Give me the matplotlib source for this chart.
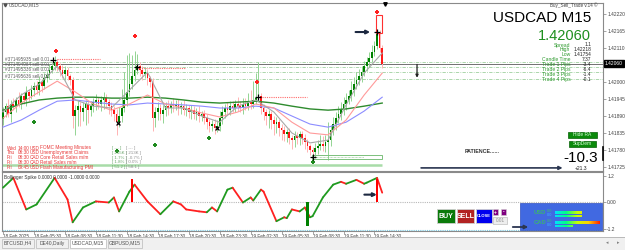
import numpy as np
import matplotlib.pyplot as plt
from matplotlib.collections import LineCollection
from matplotlib.patches import Rectangle
from matplotlib.colors import LinearSegmentedColormap
from matplotlib.transforms import blended_transform_factory

plt.rcParams["font.family"] = ["Liberation Sans", "DejaVu Sans"]

# -------------------------------
# price data (USDCAD M15)
# -------------------------------
first_open = 1.41880
close = [
    1.41903, 1.41922, 1.41896, 1.41929, 1.41922, 1.41942, 1.41929, 1.41954, 1.41942, 1.41967,
    1.41954, 1.41974, 1.41987, 1.41974, 1.42000, 1.41987, 1.42013, 1.42022, 1.42039, 1.42051,
    1.42064, 1.42051, 1.42039, 1.42026, 1.42039, 1.42019, 1.42006, 1.41890, 1.41909, 1.41922,
    1.41903, 1.41916, 1.41929, 1.41909, 1.41922, 1.41935, 1.41942, 1.41929, 1.41942, 1.41948,
    1.41935, 1.41922, 1.41909, 1.41896, 1.41870, 1.41890, 1.41916, 1.41942, 1.41967, 1.41993,
    1.42019, 1.42039, 1.42051, 1.42039, 1.42026, 1.42032, 1.42013, 1.42000, 1.41883, 1.41903,
    1.41916, 1.41896, 1.41909, 1.41922, 1.41916, 1.41929, 1.41922, 1.41929, 1.41916, 1.41922,
    1.41909, 1.41916, 1.41903, 1.41909, 1.41896, 1.41903, 1.41890, 1.41896, 1.41883, 1.41870,
    1.41857, 1.41864, 1.41851, 1.41857, 1.41883, 1.41903, 1.41916, 1.41909, 1.41922, 1.41916,
    1.41929, 1.41922, 1.41916, 1.41929, 1.41922, 1.41935, 1.41929, 1.41942, 1.41948, 1.41954,
    1.41916, 1.41903, 1.41890, 1.41896, 1.41877, 1.41864, 1.41870, 1.41851, 1.41844, 1.41831,
    1.41838, 1.41819, 1.41812, 1.41825, 1.41819, 1.41831, 1.41819, 1.41806, 1.41793, 1.41780,
    1.41773, 1.41786, 1.41793, 1.41799, 1.41793, 1.41806, 1.41812, 1.41844, 1.41864, 1.41883,
    1.41896, 1.41909, 1.41929, 1.41942, 1.41954, 1.41974, 1.41993, 1.42006, 1.42019, 1.42032,
    1.42051, 1.42064, 1.42077, 1.42097, 1.42116, 1.42155, 1.42110, 1.42060,
]
# wick lengths in points (1 point = 0.00001)
up_wick = [
    15, 10, 22, 12, 18, 10, 25, 12, 15, 20,
    10, 18, 12, 15, 20, 10, 16, 14, 18, 12,
    20, 12, 10, 16, 12, 10, 8, 10, 16, 20,
    12, 18, 14, 10, 16, 12, 18, 10, 14, 20,
    12, 10, 14, 12, 16, 30, 60, 90, 120, 100,
    70, 60, 40, 14, 12, 18, 10, 8, 12, 16,
    20, 12, 18, 14, 20, 10, 18, 12, 16, 14,
    20, 12, 10, 16, 14, 12, 18, 10, 12, 14,
    10, 12, 16, 20, 24, 18, 14, 20, 16, 18,
    14, 22, 16, 20, 18, 30, 40, 60, 80, 110,
    12, 12, 10, 14, 10, 12, 16, 10, 12, 14,
    10, 12, 10, 16, 14, 12, 10, 12, 10, 8,
    10, 18, 20, 30, 26, 22, 60, 18, 24, 20,
    28, 26, 22, 24, 20, 28, 22, 26, 24, 20,
    18, 16, 20, 24, 18, 10, 14, 10,
]
lo_wick = [
    20, 15, 10, 25, 12, 18, 10, 16, 12, 20,
    14, 10, 18, 12, 16, 20, 10, 14, 12, 10,
    12, 16, 20, 14, 18, 12, 16, 40, 60, 50,
    45, 30, 55, 40, 20, 18, 25, 16, 22, 30,
    20, 25, 18, 22, 40, 16, 20, 14, 18, 12,
    16, 14, 12, 18, 20, 14, 22, 16, 40, 30,
    25, 20, 30, 18, 22, 16, 20, 14, 22, 18,
    16, 20, 18, 22, 14, 20, 18, 16, 20, 22,
    18, 16, 20, 14, 16, 18, 20, 14, 16, 12,
    14, 16, 12, 18, 14, 12, 16, 14, 12, 10,
    20, 25, 30, 40, 30, 35, 28, 25, 30, 22,
    26, 20, 30, 22, 18, 24, 20, 22, 18, 16,
    16, 20, 18, 14, 16, 20, 60, 18, 16, 20,
    14, 18, 16, 20, 14, 16, 18, 14, 16, 20,
    12, 14, 16, 12, 14, 10, 12, 14,
]

# moving averages, sampled every 7 bars
ma_bars = list(range(0, 148, 7))
ma_slow = [1.41909, 1.41929, 1.41942, 1.41948, 1.41951, 1.41951, 1.41948, 1.41948, 1.41951, 1.41948, 1.41942,
           1.41935, 1.41932, 1.41935, 1.41938, 1.41932, 1.41922, 1.41913, 1.41909, 1.41913, 1.41922, 1.41932]
ma_blue = [1.41854, 1.41877, 1.41909, 1.41938, 1.41942, 1.41935, 1.41929, 1.41926, 1.41932, 1.41929, 1.41926,
           1.41922, 1.41916, 1.41916, 1.41922, 1.41916, 1.41890, 1.41864, 1.41854, 1.41870, 1.41906, 1.41951]
ma_pink = [1.41883, 1.41932, 1.41968, 1.42003, 1.41968, 1.41929, 1.41909, 1.41929, 1.41958, 1.41929, 1.41916,
           1.41900, 1.41887, 1.41903, 1.41929, 1.41916, 1.41870, 1.41835, 1.41829, 1.41877, 1.41958, 1.42029]
ma_fast = [1.41903, 1.41958, 1.41993, 1.42052, 1.41942, 1.41922, 1.41916, 1.41974, 1.42032, 1.41916, 1.41916,
           1.41890, 1.41870, 1.41922, 1.41942, 1.41903, 1.41835, 1.41803, 1.41812, 1.41926, 1.42029, 1.42094]

# open trades
trade_prices = [1.42064, 1.42049, 1.42032, 1.42010]
trade_labels = ["#371495935 sell 0.01", "#371494984 sell 0.01",
                "#371495336 sell 0.01", "#371495636 sell 0.01"]
current_price = 1.42060

# signal markers (bar index, price)
sell_sig = [(20.5, 1.42100), (51, 1.42149), (98.5, 1.42000), (145, 1.42226)]
buy_sig = [(12, 1.41870), (44, 1.41777), (59, 1.41796), (80, 1.41819), (120, 1.41741)]
x_marks = [(44.6, 1.41867), (83, 1.41851)]
plus_marks = [(19.4, 1.42071), (52, 1.42048), (99, 1.41951), (120, 1.41757), (145, 1.42162)]
red_levels = [(21, 37.6, 1.42074), (52, 70.5, 1.42045), (100.4, 118, 1.41951)]
support_line = 1.41731

# oscillator (Bollinger Spike)
osc_bars = [0, 4, 9, 13, 20, 25, 27, 31, 36, 41, 43, 45, 49, 51, 56, 61, 66, 69, 71, 76, 79, 81, 83, 87,
            89, 93, 96, 97, 100, 101, 106, 109, 110, 112, 115, 117, 119, 120, 124, 128, 131, 133, 137,
            140, 141, 145, 147]
osc_vals = [0.68, 1.13, -0.32, -0.09, 1.13, 0.14, -0.91, -0.23, 0.05, 0.0, 0.23, -0.41, 0.50, 0.82,
            0.05, -0.54, 0.05, -0.09, -0.32, -0.41, -0.45, -0.23, -0.41, 0.59, 0.68, 0.0, 0.23, 0.09,
            0.59, 0.50, -0.86, -0.68, -0.72, -0.32, -0.41, -0.23, -0.68, -0.63, 0.23, 0.82, 0.95, 0.86,
            1.04, 0.86, 0.91, 1.13, 0.45]
spike_bars = [50, 118, 145]
spike_vals = [1.09, -1.09, 1.09]

time_bars = [0, 12, 24, 36, 48, 60, 72, 84, 96, 108, 120, 132, 144]
time_labels = ["18 Feb 2025", "18 Feb 05:30", "18 Feb 08:30", "18 Feb 11:30", "18 Feb 14:30",
               "18 Feb 17:30", "18 Feb 20:30", "18 Feb 23:30", "19 Feb 02:30", "19 Feb 05:30",
               "19 Feb 08:30", "19 Feb 11:30", "19 Feb 14:30"]
# 1.42055 sits under the current-price box, so it is not labelled
price_ticks = [1.42220, 1.42165, 1.42110, 1.42000, 1.41945, 1.41890, 1.41835, 1.41780, 1.41725]

info_names = ["Spread", "High", "Low", "Candle Time", "Trade 1 Pips", "Trade 2 Pips", "Trade 3 Pips", "Trade 4 Pips"]
info_values = ["1.1", "1.42218", "1.41754", "7:37", "-3.4", "-6.4", "-1.4", "-0.1"]

news_rows = [("Wed", "14:00", "USD", "FOMC Meeting Minutes"),
             ("Thu", "08:30", "USD", "Unemployment Claims"),
             ("Fri", "08:30", "CAD", "Core Retail Sales m/m"),
             ("Fri", "08:30", "CAD", "Retail Sales m/m"),
             ("Fri", "09:45", "USD", "Flash Manufacturing PMI")]
news_forecast = ["---", "215K", "1.7%", "1.8%", "51.2"]
news_previous = ["---", "213K", "-0.7%", "0.0%", "58.1"]

strength_ccy = ["USD", "CAD"]
strength_vals = [6.0, 10.0]
strength_vals2 = [6.0, 4.0]

tabs = ["BTCUSD,H4", "DE40,Daily", "USDCAD,M15", "GBPUSD,M15"]

# -------------------------------
# figure / axes
# -------------------------------
W, H = 625, 250
fig = plt.figure(figsize=(W / 100, H / 100), dpi=100)
fig.patch.set_facecolor("white")

ax = fig.add_axes([2 / W, 1 - 171 / H, 601 / W, 168 / H])
axi = fig.add_axes([2 / W, 1 - 231 / H, 601 / W, 59 / H])
XLIM = (-0.4, 232.6)

# -------------------------------
# main chart
# -------------------------------
cl = np.array(close)
op = np.r_[first_open, cl[:-1]]
hi = np.maximum(op, cl) + np.array(up_wick) * 1e-5
lo = np.minimum(op, cl) - np.array(lo_wick) * 1e-5
xb = np.arange(len(cl))
bull = cl >= op

ax.vlines(xb[bull], lo[bull], hi[bull], color="#93d493", lw=0.7, zorder=2)
ax.vlines(xb[~bull], lo[~bull], hi[~bull], color="#ffb3b3", lw=0.7, zorder=2)
ax.bar(xb, np.maximum(np.abs(cl - op), 2e-5), bottom=np.minimum(op, cl), width=0.66,
       color=np.where(bull, "#008000", "#ff1a1a"), lw=0, zorder=3)

ax.plot(ma_bars, ma_slow, color="#2e8b2e", lw=1.0, zorder=4)
ax.plot(ma_bars, ma_blue, color="#8c8cff", lw=0.8, zorder=4)
ax.plot(ma_bars, ma_pink, color="#ff9a9a", lw=0.8, zorder=4)
ax.plot(ma_bars, ma_fast, color="#a8a8a8", lw=0.8, zorder=4)

for p, lab in zip(trade_prices, trade_labels):
    ax.axhline(p, color="#9fd09f", lw=0.6, ls=(0, (4, 1.5, 1, 1.5)), zorder=1)
    ax.text(0.8, p + 0.3e-5, lab, fontsize=3.3, color="#606060", va="bottom", zorder=6)
ax.axhline(current_price, color="#707070", lw=0.7, zorder=1)

for x0, x1, p in red_levels:
    ax.hlines(p, x0, x1, color="#ff6a6a", lw=0.8, ls=(0, (1, 1)), zorder=4)

ax.hlines(support_line, XLIM[0], 147, color="#a8dca8", lw=1.8, zorder=1)
ax.add_patch(Rectangle((119.8, 1.41751), 27.1, 0.00013, fill=False, ec="#7cc07c", lw=0.7, zorder=4))
ax.hlines(1.41757, 120.5, 140, color="#7cc07c", lw=0.5, ls=(0, (1, 1)), zorder=4)
ax.add_patch(Rectangle((144.5, 1.42159), 2.4, 0.00058, fill=False, ec="#ff3030", lw=0.8, zorder=5))

sx, sy = zip(*sell_sig)
ax.scatter(sx, sy, marker="P", s=9, color="#ff2020", lw=0, zorder=6)
bx, by = zip(*buy_sig)
ax.scatter(bx, by, marker="P", s=9, color="#1e8a1e", lw=0, zorder=6)
xx, xy = zip(*x_marks)
ax.scatter(xx, xy, marker="x", s=8, color="black", lw=0.9, zorder=6)
px_, py_ = zip(*plus_marks)
ax.scatter(px_, py_, marker="+", s=14, color="black", lw=0.9, zorder=6)

arrow = dict(arrowstyle="-|>", color="#1c2840", lw=1.5, mutation_scale=5)
ax.annotate("", xy=(143.4, 1.42162), xytext=(135.6, 1.42162), arrowprops=arrow, zorder=7)
ax.annotate("", xy=(218, 1.41722), xytext=(161, 1.41722),
            arrowprops=dict(arrowstyle="-|>", color="#2a3550", lw=1.2, mutation_scale=5))
ax.annotate("", xy=(160.5, 1.42005), xytext=(160.5, 1.42066),
            arrowprops=dict(arrowstyle="-|>", color="#202020", lw=0.9, mutation_scale=4))

ax.set_xlim(*XLIM)
ax.set_ylim(1.41712, 1.42256)
ax.set_xticks([])
ax.yaxis.tick_right()
ax.set_yticks(price_ticks)
ax.set_yticklabels([f"{p:.5f}" for p in price_ticks])
ax.tick_params(axis="y", labelsize=3.5, labelcolor="#404040", length=2, width=0.5, pad=1, color="#808080")
for s in ax.spines.values():
    s.set_color("#8a8a8a")
    s.set_linewidth(0.8)
trans = blended_transform_factory(ax.transAxes, ax.transData)
ax.text(1.003, current_price, f"{current_price:.5f}", transform=trans, fontsize=3.5, color="white",
        va="center", ha="left", bbox=dict(boxstyle="square,pad=0.25", fc="black", ec="black"), zorder=8,
        clip_on=False)

# -------------------------------
# oscillator window
# -------------------------------
pts = np.column_stack([osc_bars, osc_vals])
segs = [pts[k:k + 2] for k in range(len(pts) - 1)]
cols = ["#1f9a1f" if osc_vals[k + 1] >= osc_vals[k] else "#ff2020" for k in range(len(pts) - 1)]
axi.add_collection(LineCollection(segs, colors=cols, lw=1.3, capstyle="round", zorder=3))
axi.bar(spike_bars, spike_vals, width=1.0, color=["#ff0000", "#008000", "#ff0000"], zorder=4)
axi.axhline(0, color="#b8b8b8", lw=0.8, ls=(0, (1, 1)), zorder=1)
axi.axhline(-1.27, color="#7fd0e8", lw=0.8, ls=(0, (1, 1)), zorder=1)
axi.annotate("", xy=(146, 0.36), xytext=(139, 0.36), arrowprops=arrow, zorder=7)
axi.text(0.004, 0.95, "Bollinger Spike 0.0000 0.0000 -1.0000 0.0000", transform=axi.transAxes,
         fontsize=3.4, color="#333333", va="top")

axi.set_xlim(*XLIM)
axi.set_ylim(-1.31, 1.40)
axi.yaxis.tick_right()
axi.set_yticks([1.2, 0.0, -1.2])
axi.set_yticklabels(["1.2", "0.00", "-1.2"])
axi.tick_params(axis="y", labelsize=3.5, labelcolor="#404040", length=2, width=0.5, pad=1, color="#808080")
axi.set_xticks(time_bars)
axi.set_xticklabels(time_labels)
axi.tick_params(axis="x", labelsize=3.3, labelcolor="#404040", length=2, width=0.5, pad=0.5, color="#808080")
plt.setp(axi.get_xticklabels(), ha="left")
for s in axi.spines.values():
    s.set_color("#8a8a8a")
    s.set_linewidth(0.8)

# -------------------------------
# overlay: panels, buttons, text objects
# -------------------------------
ui = fig.add_axes([0, 0, 1, 1], facecolor="none", zorder=10)
ui.set_xlim(0, W)
ui.set_ylim(H, 0)
ui.axis("off")

ui.plot(5, 4.5, marker="v", ms=2, color="#505050")
ui.text(9, 4.5, "USDCAD,M15", fontsize=3.4, color="#505050", va="center")
ui.plot(385, 3.5, marker="v", ms=2.5, color="black")
ui.text(598, 5, "Buy_Sell_Trade v.14 \u00a9", fontsize=3.3, color="#404040", ha="right", va="center")
ui.text(591, 18, "USDCAD M15", fontsize=11, color="black", ha="right", va="center")
ui.text(591, 35.5, "1.42060", fontsize=10.5, color="#1e8f1e", ha="right", va="center")
for k, (nm, val) in enumerate(zip(info_names, info_values)):
    y = 45 + 4.9 * k
    ui.text(570.5, y, nm, fontsize=3.6, color="#2e9a2e", ha="right", va="center")
    ui.text(591, y, val, fontsize=3.5, color="#202020", ha="right", va="center")

ui.add_patch(Rectangle((568, 131.5), 29, 6, fc="#0a8a0a", ec="#056005", lw=0.5))
ui.text(582.5, 134.6, "Hide RA", fontsize=3.5, color="#dfffdf", ha="center", va="center")
ui.add_patch(Rectangle((569, 140.5), 27, 6, fc="#0a8a0a", ec="#056005", lw=0.5))
ui.text(582.5, 143.6, "SupDem", fontsize=3.5, color="#dfffdf", ha="center", va="center")
ui.text(465, 151.5, "PATIENCE......", fontsize=3.8, color="#303030", fontweight="bold", va="center")
ui.text(598, 158, "-10.3", fontsize=11, color="black", ha="right", va="center")
ui.text(587, 168.5, "+21.3", fontsize=3.6, color="#202020", ha="right", va="center")
ui.plot([603, 603], [147, 160], color="black", lw=1.2)

news_red = "#e83a3a"
for k, row in enumerate(news_rows):
    y = 148 + 4.8 * k
    for xc, txt in zip([7, 18, 29.5, 40], row):
        ui.text(xc, y, txt, fontsize=3.4, color=news_red, va="center")
    ui.text(112, y, f"[ {news_forecast[k]} ]", fontsize=3.2, color="#6aa56a", va="center")
    ui.text(125.5, y, f"[ {news_previous[k]} ]", fontsize=3.2, color="#909090", va="center")

# trade buttons
for x0, w, fc, lab, fs in [(437, 18, "#0a7a0a", "BUY", 5.0), (457, 17, "#b22222", "SELL", 5.0),
                           (476, 16, "#0000ee", "CLOSE", 3.0)]:
    ui.add_patch(Rectangle((x0, 209), w, 14, fc=fc, ec="#d0d0d0", lw=0.6))
    ui.text(x0 + w / 2, 216.2, lab, fontsize=fs, color="white", fontweight="bold", ha="center", va="center")
for x0, lab in [(493, "+"), (501, "-")]:
    ui.add_patch(Rectangle((x0, 209), 5, 6, fc="#800080", ec="#d0d0d0", lw=0.4))
    ui.text(x0 + 2.5, 212, lab, fontsize=3.5, color="white", fontweight="bold", ha="center", va="center")
ui.add_patch(Rectangle((493, 217), 14, 7, fc="#eeeeee", ec="#b0b0b0", lw=0.4))
ui.text(500, 220.6, "0.01", fontsize=3.4, color="#909090", ha="center", va="center")
ui.annotate("", xy=(531, 227), xytext=(510, 227),
            arrowprops=dict(arrowstyle="-|>", color="#2a3550", lw=1.3, mutation_scale=5))

# currency strength panel
ui.add_patch(Rectangle((520, 203), 82, 27, fc="#4169e1", ec="#3050c0", lw=0.5, zorder=1))
cmap = LinearSegmentedColormap.from_list("strength", ["#00e0ff", "#00ff80", "#c8ff00", "#ffd000", "#ff2000"])
grad = np.linspace(0, 1, 200).reshape(1, -1)
for k, ccy in enumerate(strength_ccy):
    y = 213 + 10 * k
    ui.text(534, y, ccy, fontsize=4.2, color="#3cb371", fontweight="bold", va="center")
    ui.text(547, y - 2, "0.0", fontsize=2.8, color="#40c070", va="center")
    ui.text(547, y + 2, "0.0", fontsize=2.8, color="#40b0ff", va="center")
    L = strength_vals[k] * 4.5
    ui.imshow(grad[:, : int(200 * L / 45)], extent=(555, 555 + L, y + 1.2, y - 1.2), cmap=cmap,
              vmin=0, vmax=1, aspect="auto", interpolation="bilinear", zorder=3)
    L2 = strength_vals2[k] * 4.5
    ui.imshow(grad[:, : int(200 * L2 / 45)], extent=(555, 555 + L2, y + 4.2, y + 2.2), cmap=cmap,
              vmin=0, vmax=1, aspect="auto", interpolation="bilinear", zorder=3)

# tab strip
ui.add_patch(Rectangle((0, 236.5), W, 13.5, fc="#f0f0f0", ec="none"))
ui.plot([0, W], [236.5, 236.5], color="#b0b0b0", lw=0.6)
tab_x = [(2, 34), (36, 68), (70, 106), (108, 142)]
for (x0, x1), lab in zip(tab_x, tabs):
    active = lab == "USDCAD,M15"
    ui.add_patch(Rectangle((x0, 238.5), x1 - x0, 9, fc="white" if active else "#f0f0f0",
                           ec="#b8b8b8", lw=0.5))
    ui.text((x0 + x1) / 2, 243, lab, fontsize=3.6, color="#505050", ha="center", va="center")
ui.text(607, 243, "\u25c2", fontsize=3.5, color="#808080", ha="center", va="center")
ui.text(618, 243, "\u25b8", fontsize=3.5, color="#808080", ha="center", va="center")

ui.set_xlim(0, W)
ui.set_ylim(H, 0)

fig.savefig("out.png", dpi=100)
